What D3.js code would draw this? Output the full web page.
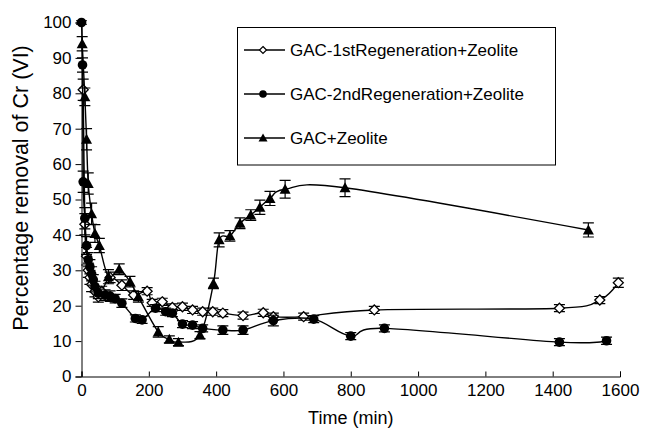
<!DOCTYPE html>
<html><head><meta charset="utf-8">
<script src="https://cdn.jsdelivr.net/npm/d3@7"></script>
<style>body{margin:0;background:#fff}svg{display:block}text{font-family:"Liberation Sans",Arial,sans-serif;fill:#000}</style>
</head><body>
<svg id="c" width="652" height="431"></svg>
<script>
const seriesNames = ["GAC-1stRegeneration+Zeolite","GAC-2ndRegeneration+Zeolite","GAC+Zeolite"];
const xTicks = [0,200,400,600,800,1000,1200,1400,1600];
const yTicks = [0,10,20,30,40,50,60,70,80,90,100];

const t1 = [5,10,15,20,25,30,40,50,60,85,120,155,195,210,240,270,300,330,360,390,420,480,540,570,660,870,1420,1540,1595];
const v1 = [81,43,34,30,28,26,24,22.5,24,28,25.8,23,24.1,20.8,21.1,19.5,19.7,18.8,18.3,18.3,17.9,17.2,18,16.9,16.9,18.8,19.3,21.6,26.5];
const e1 = [3,3,2.5,2,2,2,1.5,1.5,1.5,1.5,1.5,1.2,1,1,1,1,1,1,1,1,1,1,1,1,1,1,1,1,1.3];

const t2 = [0,3,5,10,15,20,25,30,35,40,50,70,85,100,120,160,180,220,250,270,300,330,360,420,480,570,690,800,900,1420,1560];
const v2 = [100,88,55,44.7,37,33,31,29,27.3,25.4,23.5,23,22.7,22,20.7,16.4,16,19.3,18.3,17.9,14.8,14.5,13.6,13.1,13.1,15.8,16.2,11.4,13.6,9.7,10.1];
const e2 = [0.5,2,3,3,2.5,2,2,2,1.5,1.5,1.5,1.5,1.5,1.2,1.2,1,1,1,1,1,1,1,1,1.2,1.2,1.5,1,1,1,1,1];

const t3 = [2,10,15,20,30,40,53,80,112,144,169,228,261,288,352,392,409,441,471,503,530,560,605,783,1506];
const v3 = [94,79,67,54.5,46,40.4,37,28.2,30.3,26.8,22.5,12.6,10.5,9.7,11.7,26.3,38.6,39.7,43.3,45.6,47.8,50.3,52.9,53.3,41.4];
const e3 = [2,2.5,3,3,3,2.5,2,2,1.5,1.5,1.5,1.5,1,1,1,1.5,2,1.5,1.5,1.5,2,2,2.5,2.5,2];

const svg = d3.select("#c");
svg.append("rect").attr("width",652).attr("height",431).attr("fill","#fff");
const x = d3.scaleLinear().domain([0,1600]).range([81.5,620]);
const y = d3.scaleLinear().domain([0,100]).range([376.5,22.5]);

// axes
const gx = svg.append("g").attr("transform","translate(0,"+y(0)+")")
  .call(d3.axisBottom(x).tickValues(xTicks).tickSize(-5).tickPadding(12).tickFormat(d3.format("d")));
const gy = svg.append("g").attr("transform","translate("+x(0)+",0)")
  .call(d3.axisLeft(y).tickValues(yTicks).tickSize(6).tickPadding(4));
[gx,gy].forEach(g=>{
  g.select(".domain").attr("stroke","#000").attr("stroke-width",1);
  g.selectAll(".tick line").attr("stroke","#000");
  g.selectAll("text").attr("font-size",17).style("font-family","Liberation Sans, Arial, sans-serif").attr("fill","#000");
});
gx.selectAll("text").attr("dy","0.71em").attr("y",7);

svg.append("text").attr("x",(x(0)+x(1600))/2).attr("y",424).attr("text-anchor","middle").attr("font-size",18).text("Time (min)");
svg.append("text").attr("transform","translate(28,188) rotate(-90)").attr("text-anchor","middle").attr("font-size",21.5).text("Percentage removal of Cr (VI)");

const line = d3.line().x(d=>x(d[0])).y(d=>y(d[1])).curve(d3.curveCardinal.tension(0));
const series = [
  {t:t1,v:v1,e:e1,m:"diamond"},
  {t:t2,v:v2,e:e2,m:"circle"},
  {t:t3,v:v3,e:e3,m:"triangle"}
];
function marker(g,type,cx,cy,s){
  if(type==="diamond") g.append("path").attr("d",`M${cx},${cy-5}L${cx+5},${cy}L${cx},${cy+5}L${cx-5},${cy}Z`).attr("fill","#fff").attr("stroke","#000").attr("stroke-width",1.3);
  else if(type==="circle") g.append("circle").attr("cx",cx).attr("cy",cy).attr("r",s||4.8).attr("fill","#000");
  else g.append("path").attr("d",`M${cx},${cy-5.5}L${cx+5.5},${cy+4.5}L${cx-5.5},${cy+4.5}Z`).attr("fill","#000");
}
series.forEach(s=>{
  const g = svg.append("g");
  const pts = s.t.map((t,i)=>[t,s.v[i]]);
  g.append("path").datum(pts).attr("d",line).attr("fill","none").attr("stroke","#000").attr("stroke-width",1.4);
  pts.forEach((p,i)=>{
    const cx=x(p[0]), y1=y(p[1]+s.e[i]), y2=y(p[1]-s.e[i]);
    g.append("path").attr("d",`M${cx},${y1}V${y2}M${cx-5.5},${y1}H${cx+5.5}M${cx-5.5},${y2}H${cx+5.5}`).attr("stroke","#000").attr("stroke-width",1.2).attr("fill","none");
  });
  pts.forEach(p=>marker(g,s.m,x(p[0]),y(p[1])));
});

// legend
const lg = svg.append("g");
lg.append("rect").attr("x",237.5).attr("y",27.5).attr("width",318).attr("height",137.5).attr("fill","#fff").attr("stroke","#000").attr("stroke-width",1);
const rows=[50,94,138], mk=["diamond","circle","triangle"];
rows.forEach((ry,i)=>{
  lg.append("line").attr("x1",244).attr("x2",285).attr("y1",ry).attr("y2",ry).attr("stroke","#000").attr("stroke-width",1.4);
  if(mk[i]==="diamond") lg.append("path").attr("d",`M263,${ry-3.5}L266.5,${ry}L263,${ry+3.5}L259.5,${ry}Z`).attr("fill","#fff").attr("stroke","#000").attr("stroke-width",1.2);
  else if(mk[i]==="circle") lg.append("circle").attr("cx",263).attr("cy",ry).attr("r",3.8).attr("fill","#000");
  else lg.append("path").attr("d",`M263,${ry-4.5}L267.5,${ry+3.5}L258.5,${ry+3.5}Z`).attr("fill","#000");
  lg.append("text").attr("x",290).attr("y",ry+6).attr("font-size",17).text(seriesNames[i]);
});
</script>
</body></html>
